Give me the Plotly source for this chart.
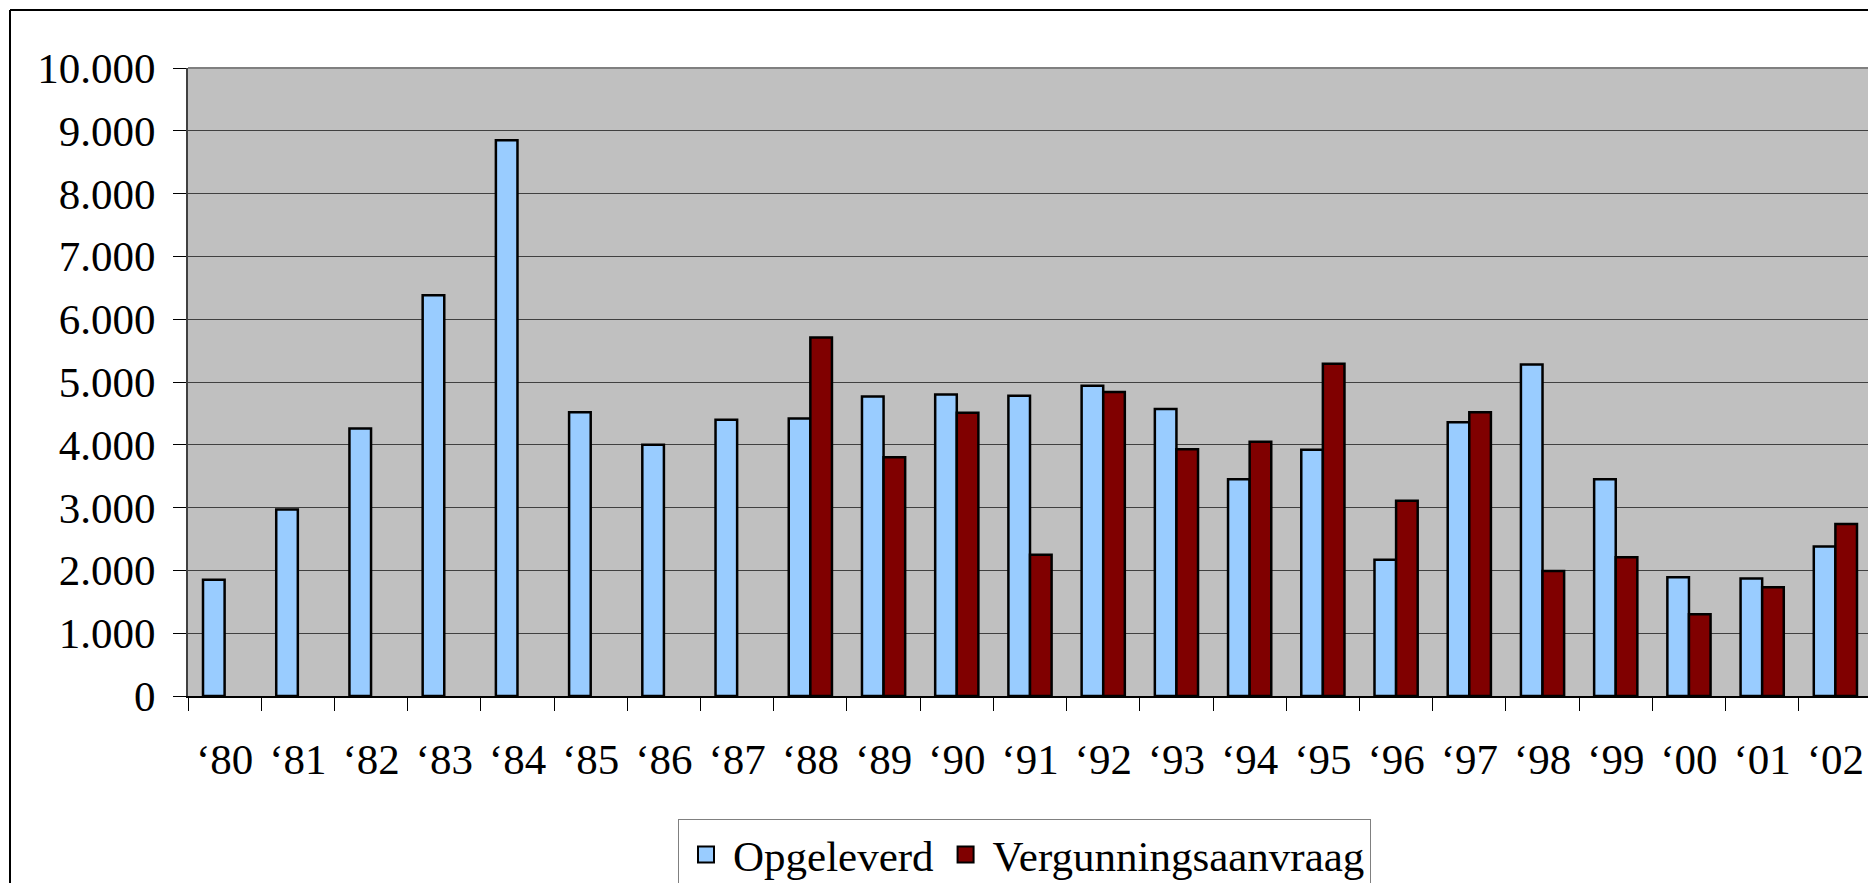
import plotly.graph_objects as go

years = ["‘80", "‘81", "‘82", "‘83", "‘84", "‘85", "‘86", "‘87", "‘88", "‘89", "‘90", "‘91",
         "‘92", "‘93", "‘94", "‘95", "‘96", "‘97", "‘98", "‘99", "‘00", "‘01", "‘02"]
opgeleverd = [1850, 2970, 4260, 6380, 8850, 4520, 4000, 4400, 4420, 4770, 4800, 4780,
              4940, 4570, 3450, 3920, 2170, 4360, 5280, 3450, 1890, 1870, 2380]
vergunning = [None, None, None, None, None, None, None, None, 5710, 3800, 4510, 2250,
              4840, 3930, 4050, 5290, 3110, 4520, 1990, 2210, 1300, 1730, 2740]

# page has an 8px body margin; figure coordinates = page coordinates - 8
OFF = 8
W, H = 1876 - OFF, 883 - OFF
L, R, T, B = 188 - OFF, 1872 - OFF, 68 - OFF, 696 - OFF
pw, ph = R - L, B - T

def px(x):
    return (x - OFF - L) / pw

def py(y):
    return (B - (y - OFF)) / ph

FONT = "Liberation Serif, Times New Roman, serif"
FS = 43
BLUE, RED = "#99CCFF", "#800000"

fig = go.Figure()
fig.add_trace(go.Bar(x=years, y=opgeleverd, name="Opgeleverd", showlegend=False,
                     marker=dict(color=BLUE, line=dict(color="black", width=2.5))))
fig.add_trace(go.Bar(x=years, y=vergunning, name="Vergunningsaanvraag", showlegend=False,
                     marker=dict(color=RED, line=dict(color="black", width=2.5))))
# legend entries with larger square symbols (on hidden overlay axes)
for name, col in [("Opgeleverd", BLUE), ("Vergunningsaanvraag", RED)]:
    fig.add_trace(go.Scatter(x=[None], y=[None], mode="markers", name=name,
                             xaxis="x2", yaxis="y2",
                             marker=dict(symbol="square", size=16, color=col,
                                         line=dict(color="black", width=2)),
                             hoverinfo="skip"))

fig.update_layout(
    width=W, height=H,
    margin=dict(l=L, r=W - R, t=T, b=H - B, pad=0, autoexpand=False),
    paper_bgcolor="white", plot_bgcolor="#C0C0C0",
    separators=",.",
    barmode="group", bargap=0.41, bargroupgap=0,
    font=dict(family=FONT, size=FS, color="black"),
    showlegend=True,
    legend=dict(orientation="h", x=px(678), y=py(819), xanchor="left", yanchor="top",
                bordercolor="#808080", borderwidth=1, bgcolor="white",
                font=dict(family=FONT, size=FS), itemwidth=44,
                tracegroupgap=0),
    xaxis2=dict(overlaying="x", visible=False, range=[0, 1]),
    yaxis2=dict(overlaying="y", visible=False, range=[0, 1]),
    shapes=[
        # outer chart border (left and top visible)
        dict(type="line", xref="paper", yref="paper", x0=px(10), x1=px(10), y0=py(10), y1=py(900),
             line=dict(color="black", width=2)),
        dict(type="line", xref="paper", yref="paper", x0=px(10), x1=px(1900), y0=py(10), y1=py(10),
             line=dict(color="black", width=2)),
        # plot area top and right border
        dict(type="line", xref="paper", yref="paper", x0=0, x1=1, y0=1, y1=1,
             line=dict(color="#808080", width=2)),
        dict(type="line", xref="paper", yref="paper", x0=1, x1=1, y0=0, y1=1,
             line=dict(color="#808080", width=2)),
    ],
    xaxis=dict(type="category", tickson="boundaries", ticks="outside", ticklen=13,
               tickcolor="black", tickwidth=1, showline=True, linecolor="black", linewidth=2,
               showgrid=False, ticklabelstandoff=24, automargin=False,
               tickfont=dict(family=FONT, size=FS, color="black")),
    yaxis=dict(range=[0, 10000], dtick=1000, tickformat=",d", ticks="outside", ticklen=13,
               tickcolor="black", tickwidth=1, showline=True, linecolor="#404040", linewidth=2,
               showgrid=True, gridcolor="#404040", gridwidth=1, zeroline=False,
               ticklabelstandoff=9, automargin=False,
               tickfont=dict(family=FONT, size=FS, color="black")),
)

fig.write_html("out.html")
